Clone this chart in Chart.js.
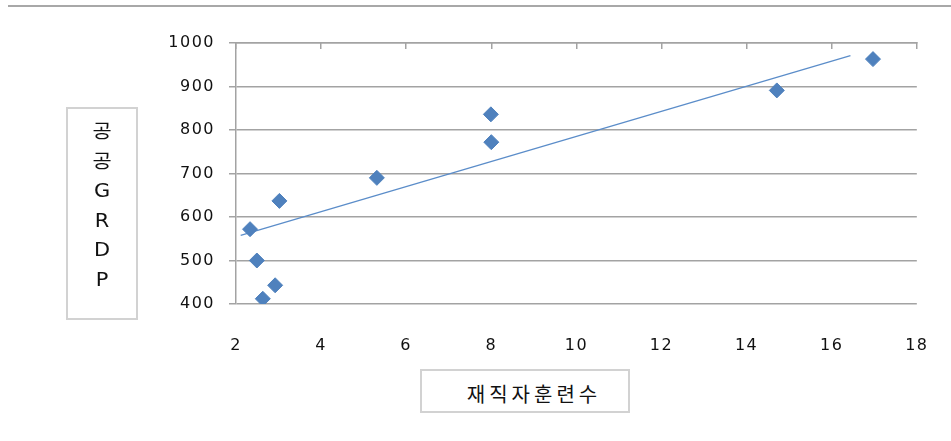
<!DOCTYPE html>
<html>
<head>
<meta charset="utf-8">
<script src="https://cdn.jsdelivr.net/npm/chart.js@4/dist/chart.umd.min.js"></script>
<style>
  html, body { margin: 0; padding: 0; background: #fff; }
  #wrap { position: relative; width: 951px; height: 441px; overflow: hidden; }
  #sheetRule { position: absolute; left: 8px; right: 0; top: 5px; border-top: 2px solid #a8a8a8; }
  #chart { position: absolute; left: 0; top: 0; }
  .axisTitle {
    position: absolute; box-sizing: border-box; border: 2px solid #d2d2d2; background: #fff;
    color: #111; text-align: center;
  }
  #yTitle {
    left: 66px; top: 107px; width: 72px; height: 213px; padding-top: 8px;
    font-family: "DejaVu Sans", "Noto Sans CJK KR", sans-serif; font-size: 19px; line-height: 29.6px;
  }
  #yTitle span { display: block; transform: scaleX(1.1); }
  #xTitle {
    left: 420px; top: 369px; width: 210px; height: 44px; padding-left: 18px;
    font-family: "Noto Sans CJK KR", sans-serif; font-size: 20px; line-height: 46px; letter-spacing: 4px;
    white-space: nowrap; overflow: hidden;
  }
</style>
</head>
<body>
<div id="wrap">
  <div id="sheetRule"></div>
  <canvas id="chart" width="951" height="441"></canvas>
  <div id="yTitle" class="axisTitle"></div>
  <div id="xTitle" class="axisTitle"></div>
</div>
<script>
// Training counts (x) and public-sector GRDP (y), one pair per region
const trainingCounts = [2.33, 2.49, 2.63, 2.92, 3.02, 5.31, 7.99, 8.00, 14.71, 16.97];
const publicGrdp     = [572, 500, 412, 443, 637, 690, 836, 772, 891, 963];

// Endpoints of the fitted trend line
const trendX = [2.11, 16.44];
const trendY = [558, 971];

// Axis ticks
const xTickValues = [2, 4, 6, 8, 10, 12, 14, 16, 18];
const yTickValues = [400, 500, 600, 700, 800, 900, 1000];

// Axis titles
const xTitleText = '재직자훈련수';
const yTitleChars = ['공', '공', 'G', 'R', 'D', 'P'];

document.getElementById('xTitle').textContent = xTitleText;
const yTitleEl = document.getElementById('yTitle');
yTitleChars.forEach(ch => {
  const s = document.createElement('span');
  s.textContent = ch;
  yTitleEl.appendChild(s);
});

const gridGray = '#a3a3a3';
const markerBlue = '#4F81BD';

const toPoints = (xs, ys) => xs.map((x, i) => ({ x, y: ys[i] }));
const fixedTicks = values => scale => { scale.ticks = values.map(v => ({ value: v })); };
const plainNumber = v => String(v);

// Wide tick lettering
const spacedText = {
  id: 'spacedText',
  beforeDraw(chart) { chart.ctx.letterSpacing = '1.5px'; }
};

const tickFont = { family: 'DejaVu Sans', size: 16 };

new Chart(document.getElementById('chart'), {
  type: 'scatter',
  data: {
    datasets: [
      {
        label: '공공GRDP',
        data: toPoints(trainingCounts, publicGrdp),
        pointStyle: 'rectRot',
        pointRadius: 7.5,
        pointBackgroundColor: markerBlue,
        pointBorderColor: markerBlue,
        pointBorderWidth: 1,
        order: 1
      },
      {
        label: '추세선',
        data: toPoints(trendX, trendY),
        showLine: true,
        borderColor: '#5b8dc9',
        borderWidth: 1.3,
        pointRadius: 0,
        order: 2
      }
    ]
  },
  options: {
    responsive: false,
    animation: false,
    devicePixelRatio: 1,
    layout: { padding: { left: 0, top: 43, right: 33, bottom: 0 } },
    plugins: { legend: { display: false }, tooltip: { enabled: false } },
    scales: {
      x: {
        type: 'linear',
        position: 'bottom',
        min: 2, max: 18,
        afterBuildTicks: fixedTicks(xTickValues),
        afterFit: s => { s.height = 137; },
        grid: { display: false },
        border: { display: false },
        ticks: { padding: 24, color: '#111', font: tickFont, callback: plainNumber }
      },
      xTop: {
        type: 'linear',
        axis: 'x',
        position: 'top',
        min: 2, max: 18,
        afterBuildTicks: fixedTicks(xTickValues),
        afterFit: s => { s.height = 0; },
        grid: { drawOnChartArea: false, drawTicks: true, tickLength: -6, color: gridGray, lineWidth: 1.5 },
        border: { display: true, color: gridGray, width: 1.5 },
        ticks: { display: false }
      },
      y: {
        type: 'linear',
        min: 400, max: 1000,
        afterBuildTicks: fixedTicks(yTickValues),
        afterFit: s => { s.width = 236; },
        grid: { color: gridGray, lineWidth: 1.5, tickLength: 7 },
        border: { display: true, color: gridGray, width: 1.5 },
        ticks: { padding: 14, color: '#111', font: tickFont, callback: plainNumber }
      }
    }
  },
  plugins: [spacedText]
});
</script>
</body>
</html>
